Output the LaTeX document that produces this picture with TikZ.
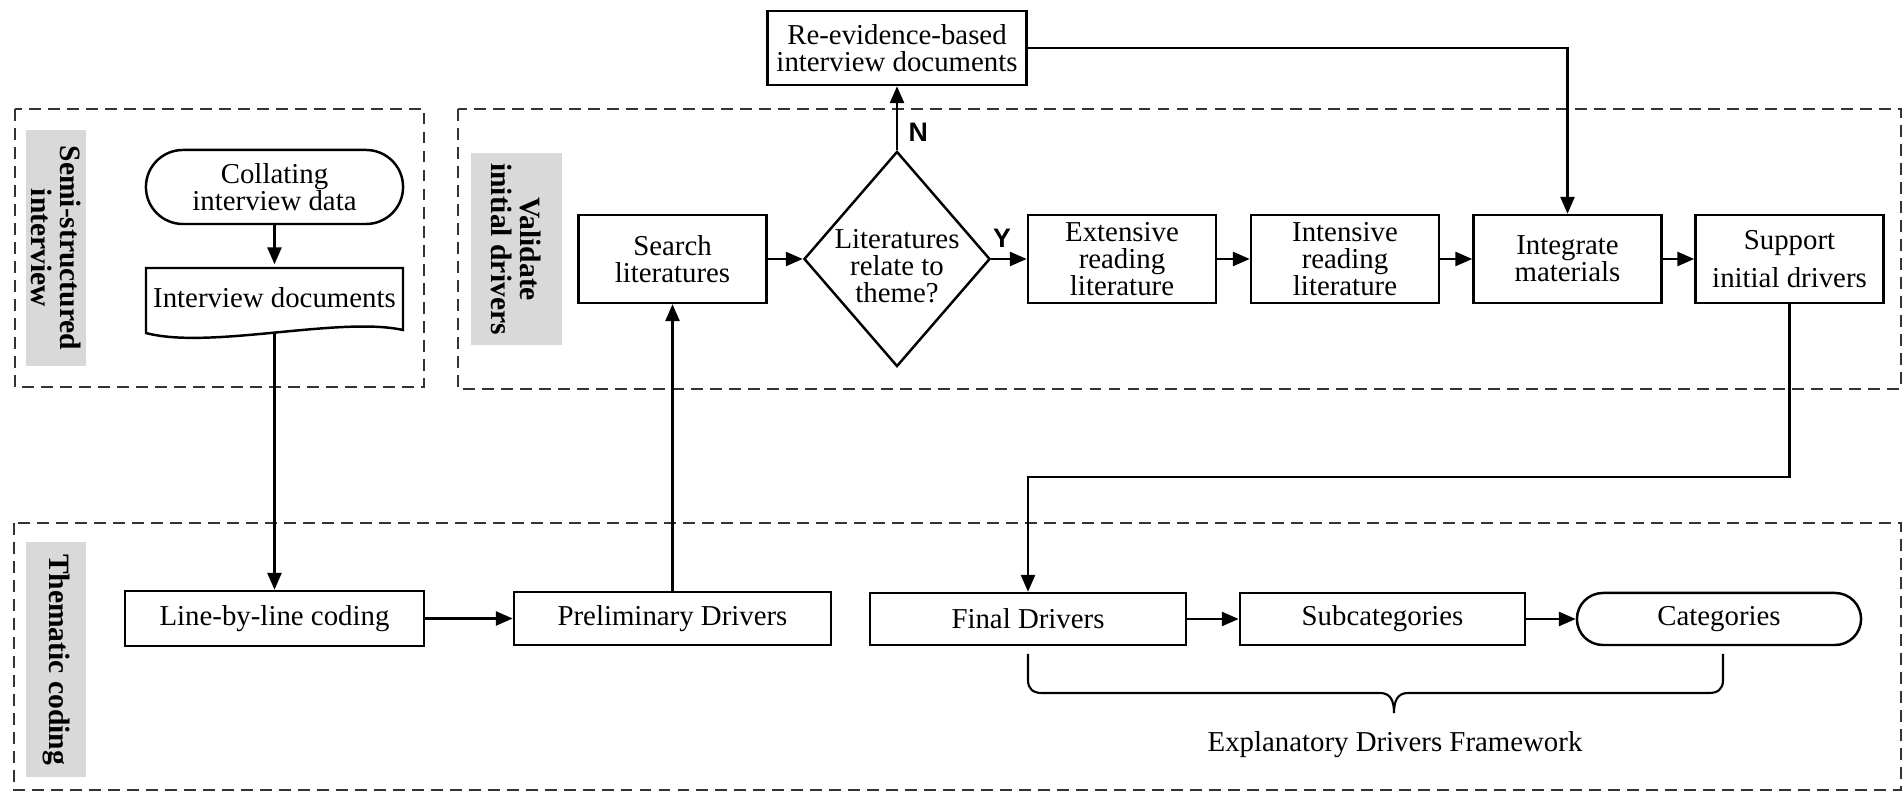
\documentclass[tikz,border=0pt]{standalone}
\usepackage{fontspec}
\setmainfont{Liberation Serif}
\setsansfont{Liberation Sans}
\usetikzlibrary{arrows.meta,shapes.geometric}

\definecolor{tagGrey}{HTML}{D9D9D9}

\tikzset{
  box/.style={draw, line width=0.7pt, minimum width=1.88cm, minimum height=0.88cm, inner sep=0.5pt, align=center, font=\fontsize{8.2}{7.7}\selectfont},
  term/.style={box, rounded corners=0.26cm},
  dec/.style={draw, diamond, line width=0.7pt, minimum width=1.86cm, minimum height=2.15cm, inner sep=0pt},
  tag/.style={fill=tagGrey, rotate=-90, align=center, inner sep=0pt, font=\fontsize{8.4}{8.2}\selectfont\bfseries},
  lane/.style={draw=black!80, dash pattern=on 3.4pt off 2pt, line width=0.6pt},
  flow/.style={-{Triangle[length=4.8pt,width=4pt]}, line width=0.65pt},
  yn/.style={inner sep=0pt, font=\fontsize{7.6}{8}\selectfont\sffamily\bfseries}
}

\begin{document}
\begin{tikzpicture}[x=0.01cm, y=-0.01cm]
  \useasboundingbox (0,0) rectangle (1903,792);

  \draw[lane] (15,109) rectangle (424,387);
  \draw[lane] (458,109) rectangle (1901,389);
  \draw[lane] (14,523) rectangle (1901,790);

  \node[tag, minimum width=2.36cm, minimum height=0.6cm] (tsemi) at (56,248) {Semi-structured\\interview};
  \node[tag, minimum width=1.92cm, minimum height=0.91cm] (tvali) at (516.5,249) {Validate\\initial drivers};
  \node[tag, minimum width=2.35cm, minimum height=0.6cm] (tthem) at (56,659.5) {Thematic coding};

  \node[term, minimum width=2.57cm, minimum height=0.74cm, rounded corners=0.37cm] (colla) at (274.5,187) {Collating\\interview data};
  \node[box, draw=none, minimum width=2.57cm, minimum height=0.65cm] (idoc) at (274.5,298) {Interview documents};
    \draw[line width=0.7pt] (146,333) -- (146,268) -- (403,268) -- (403,330)
      .. controls (339.5,316) and (209.5,350) .. (146,333) -- cycle;

  \node[box, minimum width=2.59cm, minimum height=0.74cm] (reev) at (897,48) {Re-evidence-based\\interview documents};
  \node[box] (srch) at (672.5,259) {Search\\literatures};
  \node[dec] (dia) at (897,259) {};
    \node[align=center, inner sep=0pt, font=\fontsize{8.2}{7.7}\selectfont] (diat) at (897,266) {Literatures\\relate to\\theme?};
  \node[box] (ext) at (1122,259) {Extensive\\reading\\literature};
  \node[box] (int) at (1345,259) {Intensive\\reading\\literature};
  \node[box] (integ) at (1567.5,259) {Integrate\\materials};
  \node[box] (sup) at (1789.5,259) {Support\\[3pt]initial drivers};

  \node[box, minimum width=2.99cm, minimum height=0.55cm] (code) at (274.5,618.5) {Line-by-line coding};
  \node[box, minimum width=3.17cm, minimum height=0.53cm] (prel) at (672.5,618.5) {Preliminary Drivers};
  \node[box, minimum width=3.16cm, minimum height=0.52cm] (fin) at (1028,619) {Final Drivers};
  \node[box, minimum width=2.85cm, minimum height=0.52cm] (sub) at (1382.5,619) {Subcategories};
  \node[term, minimum width=2.84cm, minimum height=0.52cm] (cat) at (1719,619) {Categories};

  \draw[line width=0.6pt] (1028,654) -- (1028,680) .. controls (1028,689) and (1033,693) .. (1042,693)
    -- (1380,693) .. controls (1390,693) and (1394,700) .. (1394,713)
    .. controls (1394,700) and (1398,693) .. (1408,693)
    -- (1709,693) .. controls (1718,693) and (1723,689) .. (1723,680) -- (1723,654);
  \node[font=\fontsize{8.2}{7.7}\selectfont] (efw) at (1395,745) {Explanatory Drivers Framework};

  \draw[flow] (colla) -- (idoc);
  \draw[flow] (idoc) -- (code);
  \draw[flow] (code) -- (prel);
  \draw[flow] (prel) -- (srch);
  \draw[flow] (srch) -- (dia);
  \draw[flow] (dia) -- node[yn, pos=0.3, above=3pt] (ylab) {Y} (ext);
  \draw[flow] (dia) -- node[yn, pos=0.28, right=3pt] (nlab) {N} (reev);
  \draw[flow] (reev) -| (integ);
  \draw[flow] (ext) -- (int);
  \draw[flow] (int) -- (integ);
  \draw[flow] (integ) -- (sup);
  \coordinate (turn) at (1789.5,477);
  \draw[flow] (sup) -- (turn) -| (fin);
  \draw[flow] (fin) -- (sub);
  \draw[flow] (sub) -- (cat);
\end{tikzpicture}
\end{document}
